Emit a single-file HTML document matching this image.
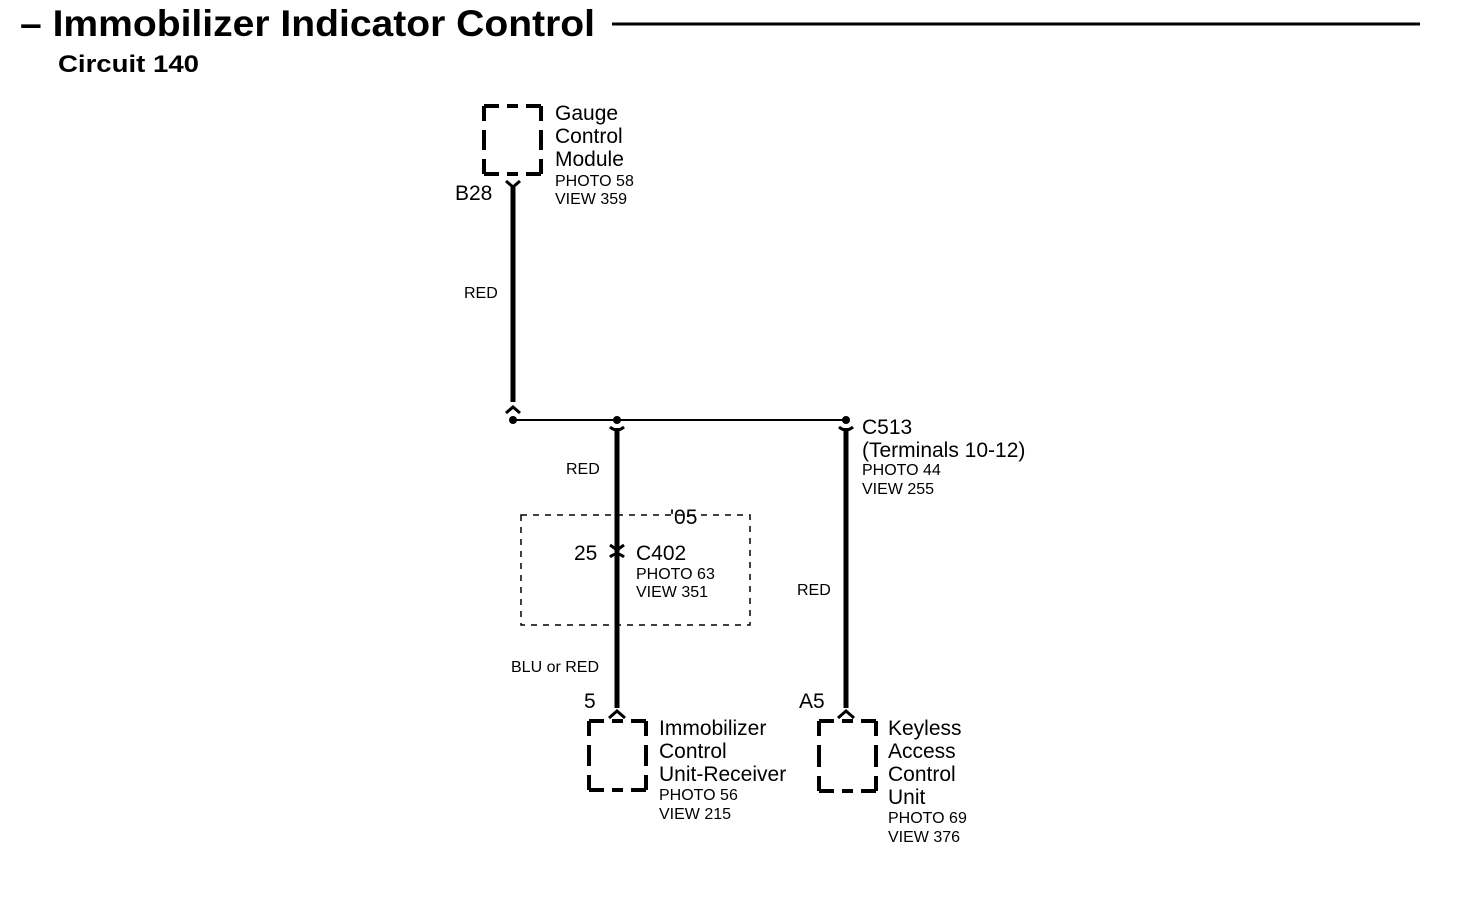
<!DOCTYPE html>
<html><head><style>body{margin:0;background:#fff}svg{display:block}text{font-family:"Liberation Sans",Arial,sans-serif;fill:#000}</style></head><body>
<svg width="1472" height="904" viewBox="0 0 1472 904" xmlns="http://www.w3.org/2000/svg">
<text x="20" y="36" font-size="37" font-weight="bold" textLength="575" lengthAdjust="spacingAndGlyphs">– Immobilizer Indicator Control</text>
<line x1="612" y1="24" x2="1420" y2="24" stroke="#000" stroke-width="3"/>
<text x="58" y="72" font-size="24" font-weight="bold" textLength="141" lengthAdjust="spacingAndGlyphs">Circuit 140</text>
<g fill="none" stroke="#000" stroke-width="4">
<g transform="translate(484,106)">
<line x1="0" y1="0" x2="57" y2="0" stroke-dasharray="15,8,11,8,15"/><line x1="0" y1="68" x2="57" y2="68" stroke-dasharray="15,8,11,8,15"/>
<line x1="0" y1="0" x2="0" y2="68" stroke-dasharray="15,9,20,9,15"/><line x1="57" y1="0" x2="57" y2="68" stroke-dasharray="15,9,20,9,15"/></g>
<g transform="translate(589,721)">
<line x1="0" y1="0" x2="57" y2="0" stroke-dasharray="15,8,11,8,15"/><line x1="0" y1="69" x2="57" y2="69" stroke-dasharray="15,8,11,8,15"/>
<line x1="0" y1="0" x2="0" y2="69" stroke-dasharray="15,9,21,9,15"/><line x1="57" y1="0" x2="57" y2="69" stroke-dasharray="15,9,21,9,15"/></g>
<g transform="translate(819,721)">
<line x1="0" y1="0" x2="57" y2="0" stroke-dasharray="15,8,11,8,15"/><line x1="0" y1="70" x2="57" y2="70" stroke-dasharray="15,8,11,8,15"/>
<line x1="0" y1="0" x2="0" y2="70" stroke-dasharray="15,9,22,9,15"/><line x1="57" y1="0" x2="57" y2="70" stroke-dasharray="15,9,22,9,15"/></g>
</g>
<rect x="521" y="515" width="229" height="110" fill="none" stroke="#000" stroke-width="1.5" stroke-dasharray="6,6"/>
<g stroke="#000" stroke-width="5" fill="none">
<line x1="513" y1="186" x2="513" y2="402"/>
<line x1="617" y1="428" x2="617" y2="708"/>
<line x1="846" y1="428" x2="846" y2="708"/>
</g>
<g stroke="#000" stroke-width="3" fill="none">
<path d="M506,181 L513,187 L520,181"/>
<path d="M506,413 L513,407 L520,413"/>
<path d="M610,427 Q617,433 624,427"/>
<path d="M839,427 Q846,433 853,427"/>
<path d="M610,545 L617,550 L624,545"/>
<path d="M610,557 Q617,551 624,557"/>
<path d="M609,718 L617,711 L625,718"/>
<path d="M838,718 L846,711 L854,718"/>
</g>
<line x1="513" y1="420" x2="846" y2="420" stroke="#000" stroke-width="2"/>
<circle cx="513" cy="420" r="4"/><circle cx="617" cy="420" r="4"/><circle cx="846" cy="420" r="4"/>
<g font-size="21">
<text x="555" y="120">Gauge</text><text x="555" y="143">Control</text><text x="555" y="166">Module</text>
<text x="455" y="200">B28</text>
<text x="862" y="434">C513</text><text x="862" y="457">(Terminals 10-12)</text>
<text x="670" y="524">'05</text>
<text x="574" y="560">25</text><text x="636" y="560">C402</text>
<text x="584" y="708">5</text><text x="799" y="708">A5</text>
<text x="659" y="735">Immobilizer</text><text x="659" y="758">Control</text><text x="659" y="781">Unit-Receiver</text>
<text x="888" y="735">Keyless</text><text x="888" y="758">Access</text><text x="888" y="781">Control</text><text x="888" y="804">Unit</text>
</g>
<g font-size="16">
<text x="555" y="186">PHOTO 58</text><text x="555" y="204">VIEW 359</text>
<text x="464" y="298">RED</text>
<text x="566" y="474">RED</text>
<text x="862" y="475">PHOTO 44</text><text x="862" y="494">VIEW 255</text>
<text x="636" y="579">PHOTO 63</text><text x="636" y="597">VIEW 351</text>
<text x="797" y="595">RED</text>
<text x="511" y="672">BLU or RED</text>
<text x="659" y="800">PHOTO 56</text><text x="659" y="819">VIEW 215</text>
<text x="888" y="823">PHOTO 69</text><text x="888" y="842">VIEW 376</text>
</g>
</svg>
</body></html>
